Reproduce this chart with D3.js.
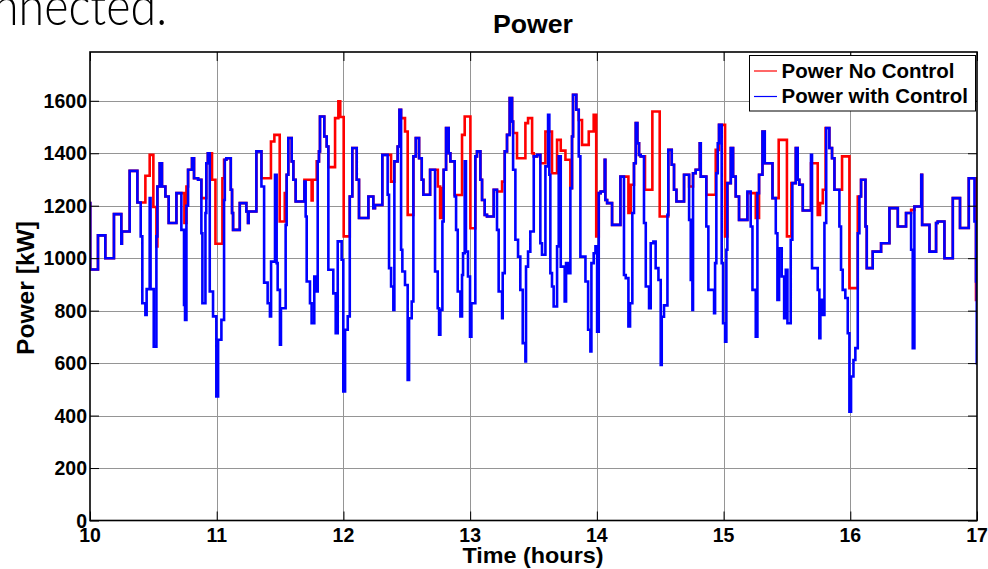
<!DOCTYPE html>
<html>
<head>
<meta charset="utf-8">
<script src="https://cdn.jsdelivr.net/npm/d3@7"></script>
<style>
  html, body { margin: 0; padding: 0; background: #fff; }
  svg { display: block; }
  text { font-family: "Liberation Sans", Arial, Helvetica, sans-serif; font-weight: bold; fill: #000; }
</style>
</head>
<body>
<svg id="chart" width="988" height="569"></svg>
<script>
// ---- data (hours, kW) : step points [time, value] ----
const xTicks = [10, 11, 12, 13, 14, 15, 16, 17];
const yTicks = [0, 200, 400, 600, 800, 1000, 1200, 1400, 1600];
const seriesNames = ["Power No Control", "Power with Control"];

const withControl = [
[10.000,1210],[10.002,957],[10.063,1087],[10.121,1000],[10.189,1168],[10.247,1055],[10.252,1102],[10.313,1333],
[10.374,1212],[10.400,1083],[10.413,828],[10.437,784],[10.447,882],[10.471,1229],[10.478,882],[10.503,663],
[10.524,1083],[10.532,1273],[10.550,1362],[10.568,1273],[10.595,1235],[10.621,1134],[10.682,1248],[10.721,1108],
[10.742,822],[10.750,765],[10.761,1200],[10.774,1337],[10.805,1381],[10.821,1305],[10.853,1299],[10.879,1095],
[10.887,828],[10.911,1172],[10.918,1362],[10.930,1400],[10.945,873],[10.971,778],[10.997,473],[11.011,689],
[11.037,765],[11.058,1222],[11.064,1375],[11.076,1381],[11.111,1261],[11.121,1172],[11.129,1108],[11.182,1210],
[11.234,1178],[11.247,1134],[11.252,1178],[11.313,1407],[11.353,1273],[11.374,907],[11.402,828],[11.420,778],
[11.429,987],[11.460,1318],[11.473,981],[11.481,879],[11.499,670],[11.507,809],[11.544,1127],[11.552,1318],
[11.565,1458],[11.592,1369],[11.605,1299],[11.623,1216],[11.692,1292],[11.702,1159],[11.710,911],[11.736,828],
[11.749,752],[11.770,930],[11.789,873],[11.797,1369],[11.807,1407],[11.815,1540],[11.849,1464],[11.868,1426],
[11.881,956],[11.920,866],[11.939,714],[11.955,1064],[11.986,994],[11.999,492],[12.013,727],[12.034,778],
[12.050,1235],[12.070,1420],[12.105,1299],[12.123,1153],[12.197,1235],[12.236,1191],[12.249,1203],[12.307,1394],
[12.349,1242],[12.360,962],[12.376,892],[12.394,803],[12.402,1369],[12.428,1426],[12.442,1566],[12.455,1032],
[12.465,949],[12.486,898],[12.507,536],[12.518,771],[12.539,835],[12.552,1388],[12.571,1458],[12.597,1381],
[12.618,1299],[12.631,1242],[12.684,1337],[12.723,949],[12.744,809],[12.755,708],[12.765,803],[12.781,1140],
[12.791,1337],[12.810,1496],[12.831,1400],[12.844,1369],[12.878,1235],[12.889,1108],[12.902,873],[12.923,778],
[12.936,936],[12.944,1019],[12.957,1369],[12.967,1025],[12.983,930],[12.999,701],[13.010,828],[13.041,1388],
[13.054,1407],[13.081,1299],[13.094,1222],[13.115,1165],[13.133,1159],[13.186,1261],[13.212,1108],[13.225,873],
[13.252,771],[13.257,943],[13.273,1407],[13.291,1470],[13.312,1610],[13.331,1521],[13.339,1337],[13.357,1070],
[13.378,1006],[13.396,879],[13.415,676],[13.436,606],[13.441,968],[13.457,1025],[13.475,1102],[13.502,1388],
[13.528,1394],[13.554,1057],[13.567,1013],[13.594,1350],[13.615,1547],[13.625,1318],[13.633,943],[13.646,892],
[13.659,816],[13.686,1045],[13.699,1388],[13.715,968],[13.746,835],[13.757,981],[13.773,943],[13.791,1267],
[13.804,1464],[13.812,1623],[13.838,1566],[13.857,1388],[13.870,1006],[13.910,911],[13.931,727],[13.949,644],
[13.957,981],[13.975,1019],[13.989,1045],[14.002,720],[14.015,1248],[14.030,1254],[14.062,1375],[14.067,1222],
[14.081,1210],[14.120,1127],[14.186,1311],[14.214,936],[14.228,924],[14.249,740],[14.262,828],[14.280,1172],
[14.293,1362],[14.307,1515],[14.320,1438],[14.333,1394],[14.346,1388],[14.372,1134],[14.386,892],[14.412,809],
[14.425,1057],[14.446,1063],[14.464,962],[14.486,917],[14.504,593],[14.512,777],[14.530,820],[14.557,1165],
[14.564,1413],[14.591,1356],[14.609,1261],[14.628,1216],[14.688,1318],[14.728,1146],[14.741,917],[14.754,803],
[14.759,1324],[14.780,1337],[14.812,1438],[14.820,1311],[14.864,1121],[14.880,879],[14.925,790],[14.933,981],
[14.943,1324],[14.954,1438],[14.964,1508],[14.985,981],[14.996,752],[15.012,682],[15.022,1032],[15.030,1286],
[15.057,1420],[15.075,1311],[15.096,1235],[15.122,1146],[15.188,1254],[15.214,1121],[15.228,879],[15.254,701],
[15.267,1248],[15.280,1318],[15.307,1483],[15.325,1362],[15.386,1229],[15.412,1095],[15.425,841],[15.438,1038],
[15.459,930],[15.478,771],[15.491,956],[15.504,752],[15.530,1070],[15.543,1286],[15.570,1420],[15.585,1299],
[15.598,1280],[15.625,1182],[15.690,1394],[15.698,962],[15.743,879],[15.756,695],[15.764,841],[15.783,784],
[15.796,1134],[15.810,1496],[15.835,1420],[15.856,1381],[15.875,1261],[15.914,1121],[15.927,956],[15.940,879],
[15.961,848],[15.980,714],[15.993,415],[16.006,549],[16.025,612],[16.040,657],[16.059,1095],[16.072,1235],
[16.085,1299],[16.120,1121],[16.130,962],[16.177,1025],[16.243,1057],[16.309,1191],[16.375,1121],[16.440,1172],
[16.480,1032],[16.493,657],[16.506,1197],[16.560,1318],[16.567,1127],[16.625,1025],[16.677,1134],[16.690,1140],
[16.743,1000],[16.809,1229],[16.866,1115],[16.935,1305],[16.980,1140],[16.992,911],[16.998,600],[17.000,600]
];

const noControl = [
[10.000,1210],[10.002,957],[10.063,1087],[10.121,1000],[10.189,1168],[10.247,1055],[10.252,1102],[10.313,1333],
[10.374,1212],[10.437,1314],[10.471,1394],[10.500,1195],[10.524,1045],[10.532,1273],[10.550,1362],[10.568,1273],
[10.595,1235],[10.621,1134],[10.682,1248],[10.745,1134],[10.761,1273],[10.774,1337],[10.805,1381],[10.821,1305],
[10.853,1299],[10.879,1229],[10.918,1362],[10.930,1400],[10.963,1299],[10.990,1055],[11.045,1305],[11.058,1375],
[11.076,1381],[11.111,1261],[11.121,1172],[11.129,1108],[11.182,1210],[11.234,1178],[11.247,1134],[11.252,1178],
[11.313,1407],[11.353,1305],[11.428,1445],[11.455,1470],[11.497,1140],[11.537,1248],[11.552,1318],[11.565,1458],
[11.592,1369],[11.605,1299],[11.623,1216],[11.692,1299],[11.749,1220],[11.757,1299],[11.789,1369],[11.807,1407],
[11.815,1540],[11.849,1464],[11.868,1426],[11.881,1347],[11.934,1534],[11.960,1598],[11.975,1538],[12.002,1083],
[12.050,1235],[12.070,1420],[12.105,1299],[12.123,1153],[12.197,1235],[12.236,1191],[12.249,1203],[12.307,1394],
[12.376,1292],[12.402,1369],[12.428,1426],[12.442,1566],[12.455,1534],[12.486,1483],[12.507,1165],[12.552,1388],
[12.571,1458],[12.597,1381],[12.618,1299],[12.631,1242],[12.684,1337],[12.745,1273],[12.763,1153],[12.776,1267],
[12.791,1337],[12.810,1496],[12.831,1400],[12.844,1369],[12.878,1241],[12.936,1470],[12.957,1540],[13.002,1114],
[13.041,1388],[13.054,1407],[13.081,1299],[13.094,1222],[13.115,1165],[13.133,1159],[13.186,1261],[13.212,1254],
[13.252,1292],[13.273,1407],[13.291,1470],[13.312,1610],[13.331,1521],[13.339,1477],[13.370,1381],[13.436,1515],
[13.457,1534],[13.489,1400],[13.502,1388],[13.528,1394],[13.554,1362],[13.594,1483],[13.646,1324],[13.686,1451],
[13.715,1410],[13.752,1375],[13.791,1267],[13.804,1464],[13.812,1623],[13.838,1566],[13.857,1527],[13.883,1432],
[13.936,1483],[13.975,1547],[13.995,1083],[14.015,1248],[14.030,1254],[14.062,1375],[14.067,1222],[14.081,1210],
[14.120,1127],[14.186,1311],[14.249,1172],[14.267,1280],[14.293,1362],[14.307,1515],[14.320,1438],[14.333,1394],
[14.346,1388],[14.380,1261],[14.438,1559],[14.496,1159],[14.564,1413],[14.591,1356],[14.609,1261],[14.628,1216],
[14.688,1318],[14.728,1273],[14.759,1324],[14.780,1337],[14.812,1438],[14.820,1311],[14.864,1242],[14.938,1413],
[14.964,1508],[15.012,1083],[15.030,1286],[15.057,1420],[15.075,1311],[15.096,1235],[15.122,1146],[15.188,1248],
[15.254,1153],[15.280,1318],[15.307,1483],[15.325,1362],[15.386,1229],[15.435,1451],[15.500,1083],[15.535,1286],
[15.570,1420],[15.585,1299],[15.598,1280],[15.625,1182],[15.690,1362],[15.743,1165],[15.761,1210],[15.783,1261],
[15.805,1496],[15.835,1420],[15.856,1381],[15.875,1261],[15.935,1388],[15.993,886],[16.059,1235],[16.085,1299],
[16.120,1121],[16.130,962],[16.177,1025],[16.243,1057],[16.309,1191],[16.375,1121],[16.440,1172],[16.480,1184],
[16.506,1197],[16.560,1318],[16.567,1127],[16.625,1025],[16.677,1134],[16.690,1140],[16.743,1000],[16.809,1229],
[16.866,1115],[16.935,1305],[16.992,841],[17.000,841]
];

// ---- layout ----
const svg = d3.select("#chart");
const W = 988, H = 569;
const plot = { left: 90, right: 977, top: 52, bottom: 520.5 };
svg.append("rect").attr("width", W).attr("height", H).attr("fill", "#fff");

const x = d3.scaleLinear().domain([10, 17]).range([plot.left, plot.right]);
const y = d3.scaleLinear().domain([0, 1786]).range([plot.bottom, plot.top]);

// slide text fragment above the chart (partly off the page, as in the source slide)
svg.append("text")
  .attr("x", -7).attr("y", 25)
  .attr("textLength", 174).attr("lengthAdjust", "spacingAndGlyphs")
  .style("font-family", "Lato, 'DejaVu Sans', sans-serif")
  .style("font-weight", "300")
  .style("font-size", "54px")
  .text("nnected.");

// grid
const grid = svg.append("g").attr("stroke", "#959595").attr("stroke-width", 1);
grid.selectAll("line.gy").data(yTicks.filter(d => d > 0)).join("line")
  .attr("x1", plot.left).attr("x2", plot.right)
  .attr("y1", d => Math.round(y(d)) + 0.5).attr("y2", d => Math.round(y(d)) + 0.5);
grid.selectAll("line.gx").data(xTicks.filter(d => d > 10 && d < 17)).join("line")
  .attr("y1", plot.top).attr("y2", plot.bottom)
  .attr("x1", d => Math.round(x(d)) + 0.5).attr("x2", d => Math.round(x(d)) + 0.5);

// clip
svg.append("clipPath").attr("id", "clip").append("rect")
  .attr("x", plot.left).attr("y", plot.top)
  .attr("width", plot.right - plot.left).attr("height", plot.bottom - plot.top);

const line = d3.line().x(d => x(d[0])).y(d => y(d[1])).curve(d3.curveStepAfter);
const lines = svg.append("g").attr("clip-path", "url(#clip)");
lines.append("path").datum(noControl).attr("d", line)
  .attr("fill", "none").attr("stroke", "#ff0000").attr("stroke-width", 2.6);
lines.append("path").datum(withControl).attr("d", line)
  .attr("fill", "none").attr("stroke", "#0000ff").attr("stroke-width", 2.6);

// axes box with inward ticks on all sides
const tickLen = 9;
const axesG = svg.append("g");
const yAxisL = d3.axisLeft(y).tickValues(yTicks).tickSize(-tickLen).tickFormat("");
const yAxisR = d3.axisRight(y).tickValues(yTicks).tickSize(-tickLen).tickFormat("");
const xAxisB = d3.axisBottom(x).tickValues(xTicks).tickSize(-tickLen).tickFormat("");
const xAxisT = d3.axisTop(x).tickValues(xTicks).tickSize(-tickLen).tickFormat("");
[[yAxisL, `translate(${plot.left},0)`], [yAxisR, `translate(${plot.right},0)`],
 [xAxisB, `translate(0,${plot.bottom})`], [xAxisT, `translate(0,${plot.top})`]].forEach(([ax, tr]) => {
  const g = axesG.append("g").attr("transform", tr).call(ax);
  g.select(".domain").remove();
  g.selectAll(".tick line").attr("stroke", "#000").attr("stroke-width", 1);
});
svg.append("rect")
  .attr("x", plot.left).attr("y", plot.top)
  .attr("width", plot.right - plot.left).attr("height", plot.bottom - plot.top)
  .attr("fill", "none").attr("stroke", "#000").attr("stroke-width", 1.6);

// tick labels
svg.append("g").selectAll("text").data(yTicks).join("text")
  .attr("x", 87).attr("y", d => y(d) + 7)
  .attr("text-anchor", "end").style("font-size", "19.5px")
  .text(d => d);
svg.append("g").selectAll("text").data(xTicks).join("text")
  .attr("x", d => x(d)).attr("y", 541.5)
  .attr("text-anchor", "middle").style("font-size", "19.5px")
  .text(d => d);

// title and axis labels
svg.append("text").attr("x", 533).attr("y", 33).attr("text-anchor", "middle")
  .attr("textLength", 80).attr("lengthAdjust", "spacingAndGlyphs")
  .style("font-size", "25px").text("Power");
svg.append("text").attr("x", 533).attr("y", 563).attr("text-anchor", "middle")
  .attr("textLength", 141).attr("lengthAdjust", "spacingAndGlyphs")
  .style("font-size", "22.5px").text("Time (hours)");
svg.append("text").attr("transform", "translate(34,288) rotate(-90)").attr("text-anchor", "middle")
  .attr("textLength", 134).attr("lengthAdjust", "spacingAndGlyphs")
  .style("font-size", "24.5px").text("Power [kW]");

// legend
const lg = svg.append("g");
lg.append("rect").attr("x", 749.5).attr("y", 55.5).attr("width", 226).attr("height", 55.5)
  .attr("fill", "#fff").attr("stroke", "#000").attr("stroke-width", 1);
const legendColors = ["#ff0000", "#0000ff"];
const legendLen = [173, 186.5];
seriesNames.forEach((name, i) => {
  const cy = 71 + i * 25.5;
  lg.append("line").attr("x1", 754).attr("x2", 777).attr("y1", cy).attr("y2", cy)
    .attr("stroke", legendColors[i]).attr("stroke-width", 1.2);
  lg.append("text").attr("x", 781.5).attr("y", cy + 6.8)
    .attr("textLength", legendLen[i]).attr("lengthAdjust", "spacingAndGlyphs")
    .style("font-size", "20px").text(name);
});
</script>
</body>
</html>
